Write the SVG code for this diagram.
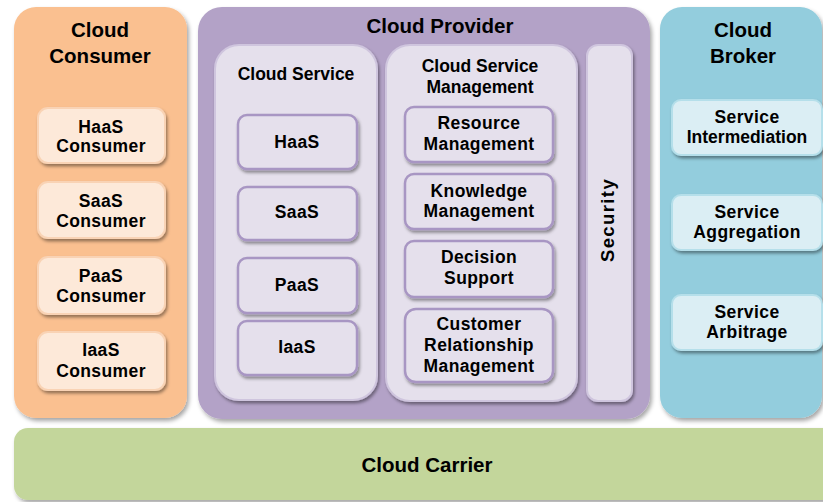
<svg xmlns="http://www.w3.org/2000/svg" width="823" height="502" viewBox="0 0 823 502">
<defs>
<filter id="sh" x="-10%" y="-10%" width="130%" height="130%">
<feDropShadow dx="2" dy="3" stdDeviation="2" flood-color="#000" flood-opacity="0.35"/>
</filter>
<filter id="shs" x="-10%" y="-10%" width="130%" height="130%">
<feDropShadow dx="1.5" dy="2.5" stdDeviation="1.5" flood-color="#000" flood-opacity="0.4"/>
</filter>
</defs>
<style>
text{font-family:"Liberation Sans",Arial,sans-serif;font-weight:bold;fill:#000;text-anchor:middle}
.t{font-size:20.5px}
.s{font-size:17.5px;letter-spacing:0.4px}
.st{font-size:17.5px}
.cons{fill:#fac090}
.consi{fill:#fde9d9;stroke:#f9d3b5;stroke-width:2}
.prov{fill:#b3a2c7}
.provc{fill:#e5e0ec;stroke:#cfc5de;stroke-width:2}
.provi{fill:#e5e0ec;stroke:#a896c3;stroke-width:2.5}
.brok{fill:#93cddd}
.broki{fill:#dbeef4;stroke:#b5dfea;stroke-width:2}
.carr{fill:#c3d69b}
</style>

<g id="cloud-carrier">
<rect class="carr" x="14" y="428" width="830" height="72" rx="14" filter="url(#sh)"/>
<text class="t" x="427" y="472">Cloud Carrier</text>
</g>

<g id="cloud-consumer">
<rect class="cons" x="14" y="7" width="173" height="411" rx="22" filter="url(#sh)"/>
<text class="t" x="100" y="37">Cloud</text>
<text class="t" x="100" y="63">Consumer</text>
</g>
<g id="haas-consumer">
<rect class="consi" x="38" y="108" width="127" height="55" rx="10" filter="url(#shs)"/>
<text class="s" x="101" y="133">HaaS</text>
<text class="s" x="101" y="152">Consumer</text>
</g>
<g id="saas-consumer">
<rect class="consi" x="38" y="182" width="127" height="56" rx="10" filter="url(#shs)"/>
<text class="s" x="101" y="207">SaaS</text>
<text class="s" x="101" y="227">Consumer</text>
</g>
<g id="paas-consumer">
<rect class="consi" x="38" y="257" width="127" height="57" rx="10" filter="url(#shs)"/>
<text class="s" x="101" y="282">PaaS</text>
<text class="s" x="101" y="302">Consumer</text>
</g>
<g id="iaas-consumer">
<rect class="consi" x="38" y="332" width="127" height="58" rx="10" filter="url(#shs)"/>
<text class="s" x="101" y="356">IaaS</text>
<text class="s" x="101" y="377">Consumer</text>
</g>

<g id="cloud-provider">
<rect class="prov" x="198" y="7" width="452" height="412" rx="24" filter="url(#sh)"/>
<text class="t" x="440" y="33">Cloud Provider</text>
</g>
<g id="cloud-service">
<rect class="provc" x="215" y="45" width="162" height="355" rx="24" filter="url(#shs)"/>
<text class="st" x="296" y="80">Cloud Service</text>
</g>
<g id="haas">
<rect class="provi" x="238" y="115" width="119" height="54" rx="9" filter="url(#shs)"/>
<text class="s" x="297" y="148">HaaS</text>
</g>
<g id="saas">
<rect class="provi" x="238" y="187" width="119" height="53" rx="9" filter="url(#shs)"/>
<text class="s" x="297" y="218">SaaS</text>
</g>
<g id="paas">
<rect class="provi" x="238" y="258" width="119" height="55" rx="9" filter="url(#shs)"/>
<text class="s" x="297" y="291">PaaS</text>
</g>
<g id="iaas">
<rect class="provi" x="238" y="321" width="119" height="54" rx="9" filter="url(#shs)"/>
<text class="s" x="297" y="353">IaaS</text>
</g>

<g id="cloud-service-management">
<rect class="provc" x="386" y="45" width="191" height="356" rx="24" filter="url(#shs)"/>
<text class="st" x="480" y="72">Cloud Service</text>
<text class="st" x="480" y="93">Management</text>
</g>
<g id="resource-management">
<rect class="provi" x="405" y="107" width="148" height="55" rx="9" filter="url(#shs)"/>
<text class="s" x="479" y="129">Resource</text>
<text class="s" x="479" y="150">Management</text>
</g>
<g id="knowledge-management">
<rect class="provi" x="405" y="174" width="148" height="55" rx="9" filter="url(#shs)"/>
<text class="s" x="479" y="197">Knowledge</text>
<text class="s" x="479" y="217">Management</text>
</g>
<g id="decision-support">
<rect class="provi" x="405" y="241" width="148" height="56" rx="9" filter="url(#shs)"/>
<text class="s" x="479" y="263">Decision</text>
<text class="s" x="479" y="284">Support</text>
</g>
<g id="customer-relationship-management">
<rect class="provi" x="405" y="309" width="148" height="73" rx="11" filter="url(#shs)"/>
<text class="s" x="479" y="330">Customer</text>
<text class="s" x="479" y="351">Relationship</text>
<text class="s" x="479" y="372">Management</text>
</g>

<g id="security">
<rect class="provc" x="587" y="45" width="45" height="356" rx="11" filter="url(#shs)"/>
<text class="s" transform="translate(614,220) rotate(-90)" style="font-size:18.5px;letter-spacing:1.4px">Security</text>
</g>

<g id="cloud-broker">
<rect class="brok" x="660" y="7" width="162" height="411" rx="22" filter="url(#sh)"/>
<text class="t" x="743" y="37">Cloud</text>
<text class="t" x="743" y="63">Broker</text>
</g>
<g id="service-intermediation">
<rect class="broki" x="672" y="100" width="150" height="55" rx="9" filter="url(#shs)"/>
<text class="s" x="747" y="123">Service</text>
<text class="st" x="747" y="143">Intermediation</text>
</g>
<g id="service-aggregation">
<rect class="broki" x="672" y="195" width="150" height="55" rx="9" filter="url(#shs)"/>
<text class="s" x="747" y="218">Service</text>
<text class="s" x="747" y="238">Aggregation</text>
</g>
<g id="service-arbitrage">
<rect class="broki" x="672" y="295" width="150" height="55" rx="9" filter="url(#shs)"/>
<text class="s" x="747" y="318">Service</text>
<text class="s" x="747" y="338">Arbitrage</text>
</g>

<g id="connectors"></g>
</svg>
